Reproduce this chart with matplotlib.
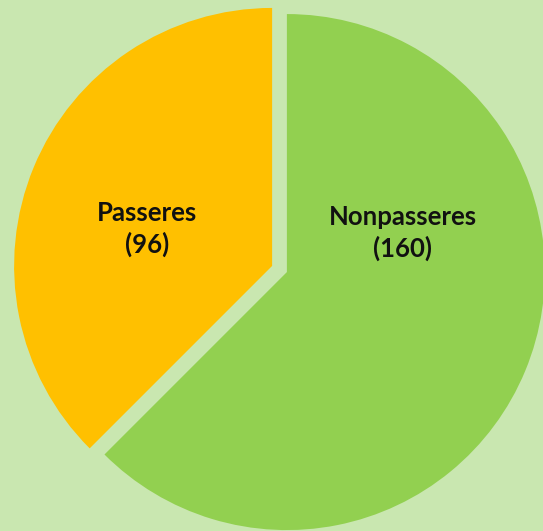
import matplotlib.pyplot as plt

# data
labels = ['Nonpasseres', 'Passeres']
counts = [160, 96]
colors = ['#92D050', '#FFC000']

fig = plt.figure(figsize=(5.43, 5.31), dpi=100, facecolor='#C9E7B0')
ax = fig.add_axes([0, 0, 1, 1])
ax.set_facecolor('#C9E7B0')

# pie drawn in pixel-like units so the layout is easy to tune
# (explode is in data units here, not a fraction of the radius)
ax.pie(counts, colors=colors, startangle=90, counterclock=False,
       explode=[8, 8], radius=258, center=(279.5, 262),
       wedgeprops=dict(linewidth=0))
ax.set_xlim(0, 543)
ax.set_ylim(0, 531)
ax.set_aspect('equal')
ax.axis('off')

# label positions (Excel style, not on the bisectors)
label_pos = [(403, 298), (147, 302)]
for name, n, (x, y) in zip(labels, counts, label_pos):
    ax.text(x, y, f'{name}\n({n})', ha='center', va='center',
            fontsize=18.5, fontweight='bold', family='Lato',
            linespacing=1.3, color='#111111')

fig.savefig('out.png', dpi=100, facecolor=fig.get_facecolor())
